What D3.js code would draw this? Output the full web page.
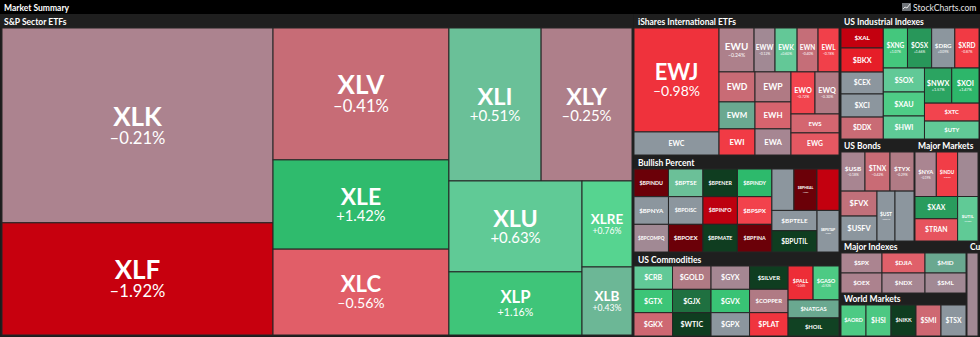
<!DOCTYPE html>
<html><head><meta charset="utf-8">
<script src="https://cdn.jsdelivr.net/npm/d3@7"></script>
<style>
html,body{margin:0;padding:0;background:#1c1c1c;}
svg{display:block;font-family:Lato,"Open Sans",sans-serif;}
</style></head><body>
<svg id="chart" width="980" height="337"></svg>
<script>
// ---------------- DATA ----------------
// S&P Sector ETFs
const spSymbols = ["XLK","XLF","XLV","XLE","XLC","XLI","XLY","XLU","XLP","XLRE","XLB"];
const spChanges = [-0.21,-1.92,-0.41,1.42,-0.56,0.51,-0.25,0.63,1.16,0.76,0.43];
const spWeights = [528,304,232,157,151,141,139,121,84,43,34];

// iShares International ETFs
const ewSymbols = ["EWJ","EWC","EWU","EWW","EWK","EWN","EWL","EWD","EWP","EWM","EWH","EWI","EWA","EWO","EWQ","EWS","EWG"];
const ewChanges = [-0.98,0.05,-0.24,-0.12,0.60,-0.40,-0.78,-0.42,-0.30,0.35,-0.50,-0.85,-0.16,-0.72,-0.30,-0.48,-0.60];
const ewWeights = [884,196,154,92,97,92,92,108,108,97,97,94,94,101,101,91,106];

// US Industrial Indexes
const indSymbols = ["$XAL","$BKX","$CEX","$XCI","$DDX","$XNG","$OSX","$DRG","$XRD","$SOX","$XAU","$HWI","$NWX","$XOI","$XTC","$UTY"];
const indChanges = [-2.00,-1.30,0.02,0.03,-0.42,1.07,1.66,0.09,-0.87,0.62,0.90,0.65,1.57,1.47,-0.72,0.62];
const indWeights = [84,101,92,97,92,96,96,92,96,98,98,94,95,95,97,97];

// Bullish Percent
const bpSymbols = ["$BPINDU","$BPTSE","$BPENER","$BPINDY","$BPNYA","$BPDISC","$BPINFO","$BPSPX","$BPCOMPQ","$BPOEX","$BPMATE","$BPFINA","$BPREAL","$BPHEAL","$BPNDX","$BPTELE","$BPUTIL","$BPSTAP"];
const bpChanges = [-3.10,0.50,3.20,1.45,0.00,0.02,-2.10,-0.75,-0.12,-3.00,3.10,-3.20,0.01,-3.03,-2.00,0.02,3.00,0.00];
const bpWeights = [94,94,94,94,94,94,94,94,94,94,94,94,90,94,90,90,95,90];

// US Commodities
const comSymbols = ["$CRB","$GOLD","$GYX","$SILVER","$GTX","$GJX","$GVX","$COPPER","$GKX","$WTIC","$GPX","$PLAT","$PALL","$GASO","$NATGAS","$HOIL"];
const comChanges = [0.62,-0.30,-0.15,3.10,1.20,2.00,1.25,-0.30,-0.45,3.40,0.00,-0.95,-1.06,0.92,0.35,2.90];
const comWeights = [90,90,90,90,90,90,90,90,90,90,90,90,85,88,92,92];

// US Bonds
const bondSymbols = ["$USB","$TNX","$TYX","$FVX","$USFV","$UST","$IRX"];
const bondChanges = [-0.18,-0.42,-0.29,-0.38,0.00,0.01,0.02];
const bondWeights = [94,98,94,90,90,90,95];

// Major Markets
const mmSymbols = ["$NYA","$INDU","$COMPQ","$XAX","$TRAN","$UTIL"];
const mmChanges = [-0.19,-0.82,-0.12,1.62,-0.62,0.63];
const mmWeights = [92,92,88,92,92,88];

// Major Indexes
const miSymbols = ["$SPX","$DJIA","$MID","$OEX","$NDX","$SML"];
const miChanges = [-0.20,-0.55,0.35,-0.22,-0.16,-0.12];
const miWeights = [82,86,82,82,86,82];

// World Markets
const wmSymbols = ["$AORD","$HSI","$NIKK","$SMI","$TSX"];
const wmChanges = [0.92,0.95,3.00,-0.45,0.00];
const wmWeights = [78,78,78,78,78];

// Currencies
const cuSymbols = ["$USD"];
const cuChanges = [-0.12];
const cuWeights = [1];

// symbols whose labels are not shown in the source
const unlabeled = ["$BPREAL","$BPNDX","$IRX","$COMPQ","$USD"];

// ---------------- LAYOUT (nesting of tiles: "h" = side by side, "v" = stacked) ----------------
const spTree = ["h", ["v","XLK","XLF"], ["v","XLV","XLE","XLC"], ["v", ["h","XLI","XLY"], ["h", ["v","XLU","XLP"], ["v","XLRE","XLB"]]]];
const ewTree = ["h", ["v","EWJ","EWC"], ["v", ["h","EWU","EWW","EWK","EWN","EWL"], ["h", ["v", ["h","EWD","EWP"], ["h","EWM","EWH"], ["h","EWI","EWA"]], ["v", ["h","EWO","EWQ"], "EWS", "EWG"]]]];
const indTree = ["h", ["v","$XAL","$BKX","$CEX","$XCI","$DDX"], ["v", ["h","$XNG","$OSX","$DRG","$XRD"], ["h", ["v","$SOX","$XAU","$HWI"], ["v", ["h","$NWX","$XOI"], "$XTC", "$UTY"]]]];
const bpTree = ["h", ["v", ["h","$BPINDU","$BPTSE","$BPENER","$BPINDY"], ["h","$BPNYA","$BPDISC","$BPINFO","$BPSPX"], ["h","$BPCOMPQ","$BPOEX","$BPMATE","$BPFINA"]], ["v", ["h","$BPREAL","$BPHEAL","$BPNDX"], ["h", ["v","$BPTELE","$BPUTIL"], "$BPSTAP"]]];
const comTree = ["h", ["v", ["h","$CRB","$GOLD","$GYX","$SILVER"], ["h","$GTX","$GJX","$GVX","$COPPER"], ["h","$GKX","$WTIC","$GPX","$PLAT"]], ["v", ["h","$PALL","$GASO"], "$NATGAS", "$HOIL"]];
const bondTree = ["v", ["h","$USB","$TNX","$TYX"], ["h", ["v","$FVX","$USFV"], "$UST", "$IRX"]];
const mmTree = ["v", ["h","$NYA","$INDU","$COMPQ"], ["h", ["v","$XAX","$TRAN"], "$UTIL"]];
const miTree = ["v", ["h","$SPX","$DJIA","$MID"], ["h","$OEX","$NDX","$SML"]];
const wmTree = ["h","$AORD","$HSI","$NIKK","$SMI","$TSX"];
const cuTree = ["h","$USD"];

const panels = [
  {title:"S&P Sector ETFs", head:[0,14,633,28], cells:[2,28,632,335], tree:spTree, sym:spSymbols, chg:spChanges, wt:spWeights},
  {title:"iShares International ETFs", head:[634,14,840,28], cells:[634,28,839,155], tree:ewTree, sym:ewSymbols, chg:ewChanges, wt:ewWeights},
  {title:"US Industrial Indexes", head:[840,14,980,28], cells:[841,28,979,139], tree:indTree, sym:indSymbols, chg:indChanges, wt:indWeights},
  {title:"US Bonds", head:[840,140,914,152], cells:[841,152,914,241], tree:bondTree, sym:bondSymbols, chg:bondChanges, wt:bondWeights},
  {title:"Major Markets", head:[914,140,980,152], cells:[915,152,978,241], tree:mmTree, sym:mmSymbols, chg:mmChanges, wt:mmWeights},
  {title:"Bullish Percent", head:[634,156,840,169], cells:[634,169,839,252], tree:bpTree, sym:bpSymbols, chg:bpChanges, wt:bpWeights},
  {title:"US Commodities", head:[634,253,840,266], cells:[634,266,839,336], tree:comTree, sym:comSymbols, chg:comChanges, wt:comWeights},
  {title:"Major Indexes", head:[840,242,966,253], cells:[841,253,966,293], tree:miTree, sym:miSymbols, chg:miChanges, wt:miWeights},
  {title:"World Markets", head:[840,294,966,305], cells:[841,305,966,336], tree:wmTree, sym:wmSymbols, chg:wmChanges, wt:wmWeights},
  {title:"Currencies", head:[966,242,980,253], cells:[967,253,978,336], tree:cuTree, sym:cuSymbols, chg:cuChanges, wt:cuWeights}
];

// ---------------- COLOR SCALE ----------------
const colorStops = [
  [-3.0,"#6b0008"],[-2.2,"#b80010"],[-1.9,"#c8000e"],[-1.3,"#e61e28"],[-0.95,"#f0343e"],
  [-0.72,"#f2444e"],[-0.55,"#e0606a"],[-0.42,"#c96b75"],[-0.30,"#b07a84"],[-0.20,"#ab8490"],
  [-0.10,"#9e8a95"],[0.0,"#8c969e"],[0.10,"#8c969e"],[0.35,"#6aa890"],[0.45,"#6dbb98"],
  [0.55,"#68c498"],[0.65,"#5ecb96"],[0.78,"#54d68f"],[0.95,"#4cc882"],[1.2,"#3cc577"],
  [1.45,"#2dba6c"],[1.6,"#2a9e5e"],[2.0,"#1f7040"],[3.0,"#0f3d20"]
];
const color = d3.scaleLinear()
  .domain(colorStops.map(d=>d[0]))
  .range(colorStops.map(d=>d[1]))
  .interpolate(d3.interpolateRgb)
  .clamp(true);

const fmt = v => (v < 0 ? "\u2013" : "+") + Math.abs(v).toFixed(2) + "%";

// ---------------- DRAW ----------------
const svg = d3.select("#chart");
svg.append("rect").attr("width",980).attr("height",337).attr("fill","#1c1c1c");

// top bar
svg.append("rect").attr("x",0).attr("y",0).attr("width",980).attr("height",14).attr("fill","#000");
svg.append("text").attr("x",4).attr("y",10.5).attr("fill","#fff")
  .attr("font-size",8.5).attr("font-weight","bold").text("Market Summary");
// logo
const logo = svg.append("g").attr("transform","translate(902,3)");
logo.append("rect").attr("width",9).attr("height",8).attr("fill","#6f7378");
logo.append("path").attr("d","M1,6 L3,4 L5,5 L8,1").attr("stroke","#fff").attr("stroke-width",0.8).attr("fill","none");
svg.append("text").attr("x",913).attr("y",10.5).attr("fill","#e6e6e6")
  .attr("font-size",8.6).text("StockCharts.com");

const tile = (node, x0, y0, x1, y1) =>
  (node.data.dir === "h" ? d3.treemapDice : d3.treemapSlice)(node, x0, y0, x1, y1);

function buildTree(spec, lookup) {
  if (typeof spec === "string") return lookup.get(spec);
  return {dir: spec[0], children: spec.slice(1).map(s => buildTree(s, lookup))};
}

const defs = svg.append("defs");

panels.forEach((p, pi) => {
  const lookup = new Map(p.sym.map((s,i)=>[s,{name:s, change:p.chg[i], value:p.wt[i]}]));
  const root = d3.hierarchy(buildTree(p.tree, lookup)).sum(d => d.children ? 0 : d.value);
  const [cx0, cy0, cx1, cy1] = p.cells;
  d3.treemap().tile(tile).size([cx1-cx0, cy1-cy0])(root);

  // header
  const [hx0, hy0, hx1, hy1] = p.head;
  const clipId = "hclip" + pi;
  defs.append("clipPath").attr("id", clipId)
    .append("rect").attr("x",hx0).attr("y",hy0).attr("width",hx1-hx0).attr("height",hy1-hy0);
  svg.append("rect").attr("x",hx0).attr("y",hy0).attr("width",hx1-hx0).attr("height",hy1-hy0)
    .attr("fill","#1f1f1f");
  svg.append("text").attr("clip-path",`url(#${clipId})`)
    .attr("x",hx0+4).attr("y",hy1-3.3).attr("fill","#fff")
    .attr("font-size",8.5).attr("font-weight","bold").text(p.title);

  const g = svg.append("g").attr("transform",`translate(${cx0},${cy0})`);
  const leaves = root.leaves();
  const cell = g.selectAll("g.cell").data(leaves).join("g").attr("class","cell");
  cell.append("rect")
    .attr("x", d=>d.x0).attr("y", d=>d.y0)
    .attr("width", d=>d.x1-d.x0).attr("height", d=>d.y1-d.y0)
    .attr("fill", d=>color(d.data.change))
    .attr("stroke","#262626").attr("stroke-width",1);

  cell.each(function(d){
    const w = d.x1-d.x0, h = d.y1-d.y0;
    const name = d.data.name;
    const fs = Math.min(26, 0.24*Math.min(w,h)+1.5, w*0.7/(name.length*0.65));
    if (fs < 3.0 || unlabeled.includes(name)) return;
    const showPct = h >= 33;
    const pctFs = fs >= 12 ? 0.64*fs : 0.52*fs;
    const cx = (d.x0+d.x1)/2, cy = (d.y0+d.y1)/2;
    const nb = showPct ? cy + (0.72*fs - pctFs - 1.5)/2 : cy + 0.36*fs;
    const sel = d3.select(this);
    sel.append("text").attr("x",cx).attr("y",nb).attr("text-anchor","middle")
      .attr("fill","#fff").attr("font-weight","bold").attr("font-size",fs).text(name);
    if (showPct) {
      sel.append("text").attr("x",cx).attr("y",nb+pctFs+1.5).attr("text-anchor","middle")
        .attr("fill","#fff").attr("font-size",pctFs).text(fmt(d.data.change));
    }
  });
});
</script></body></html>
